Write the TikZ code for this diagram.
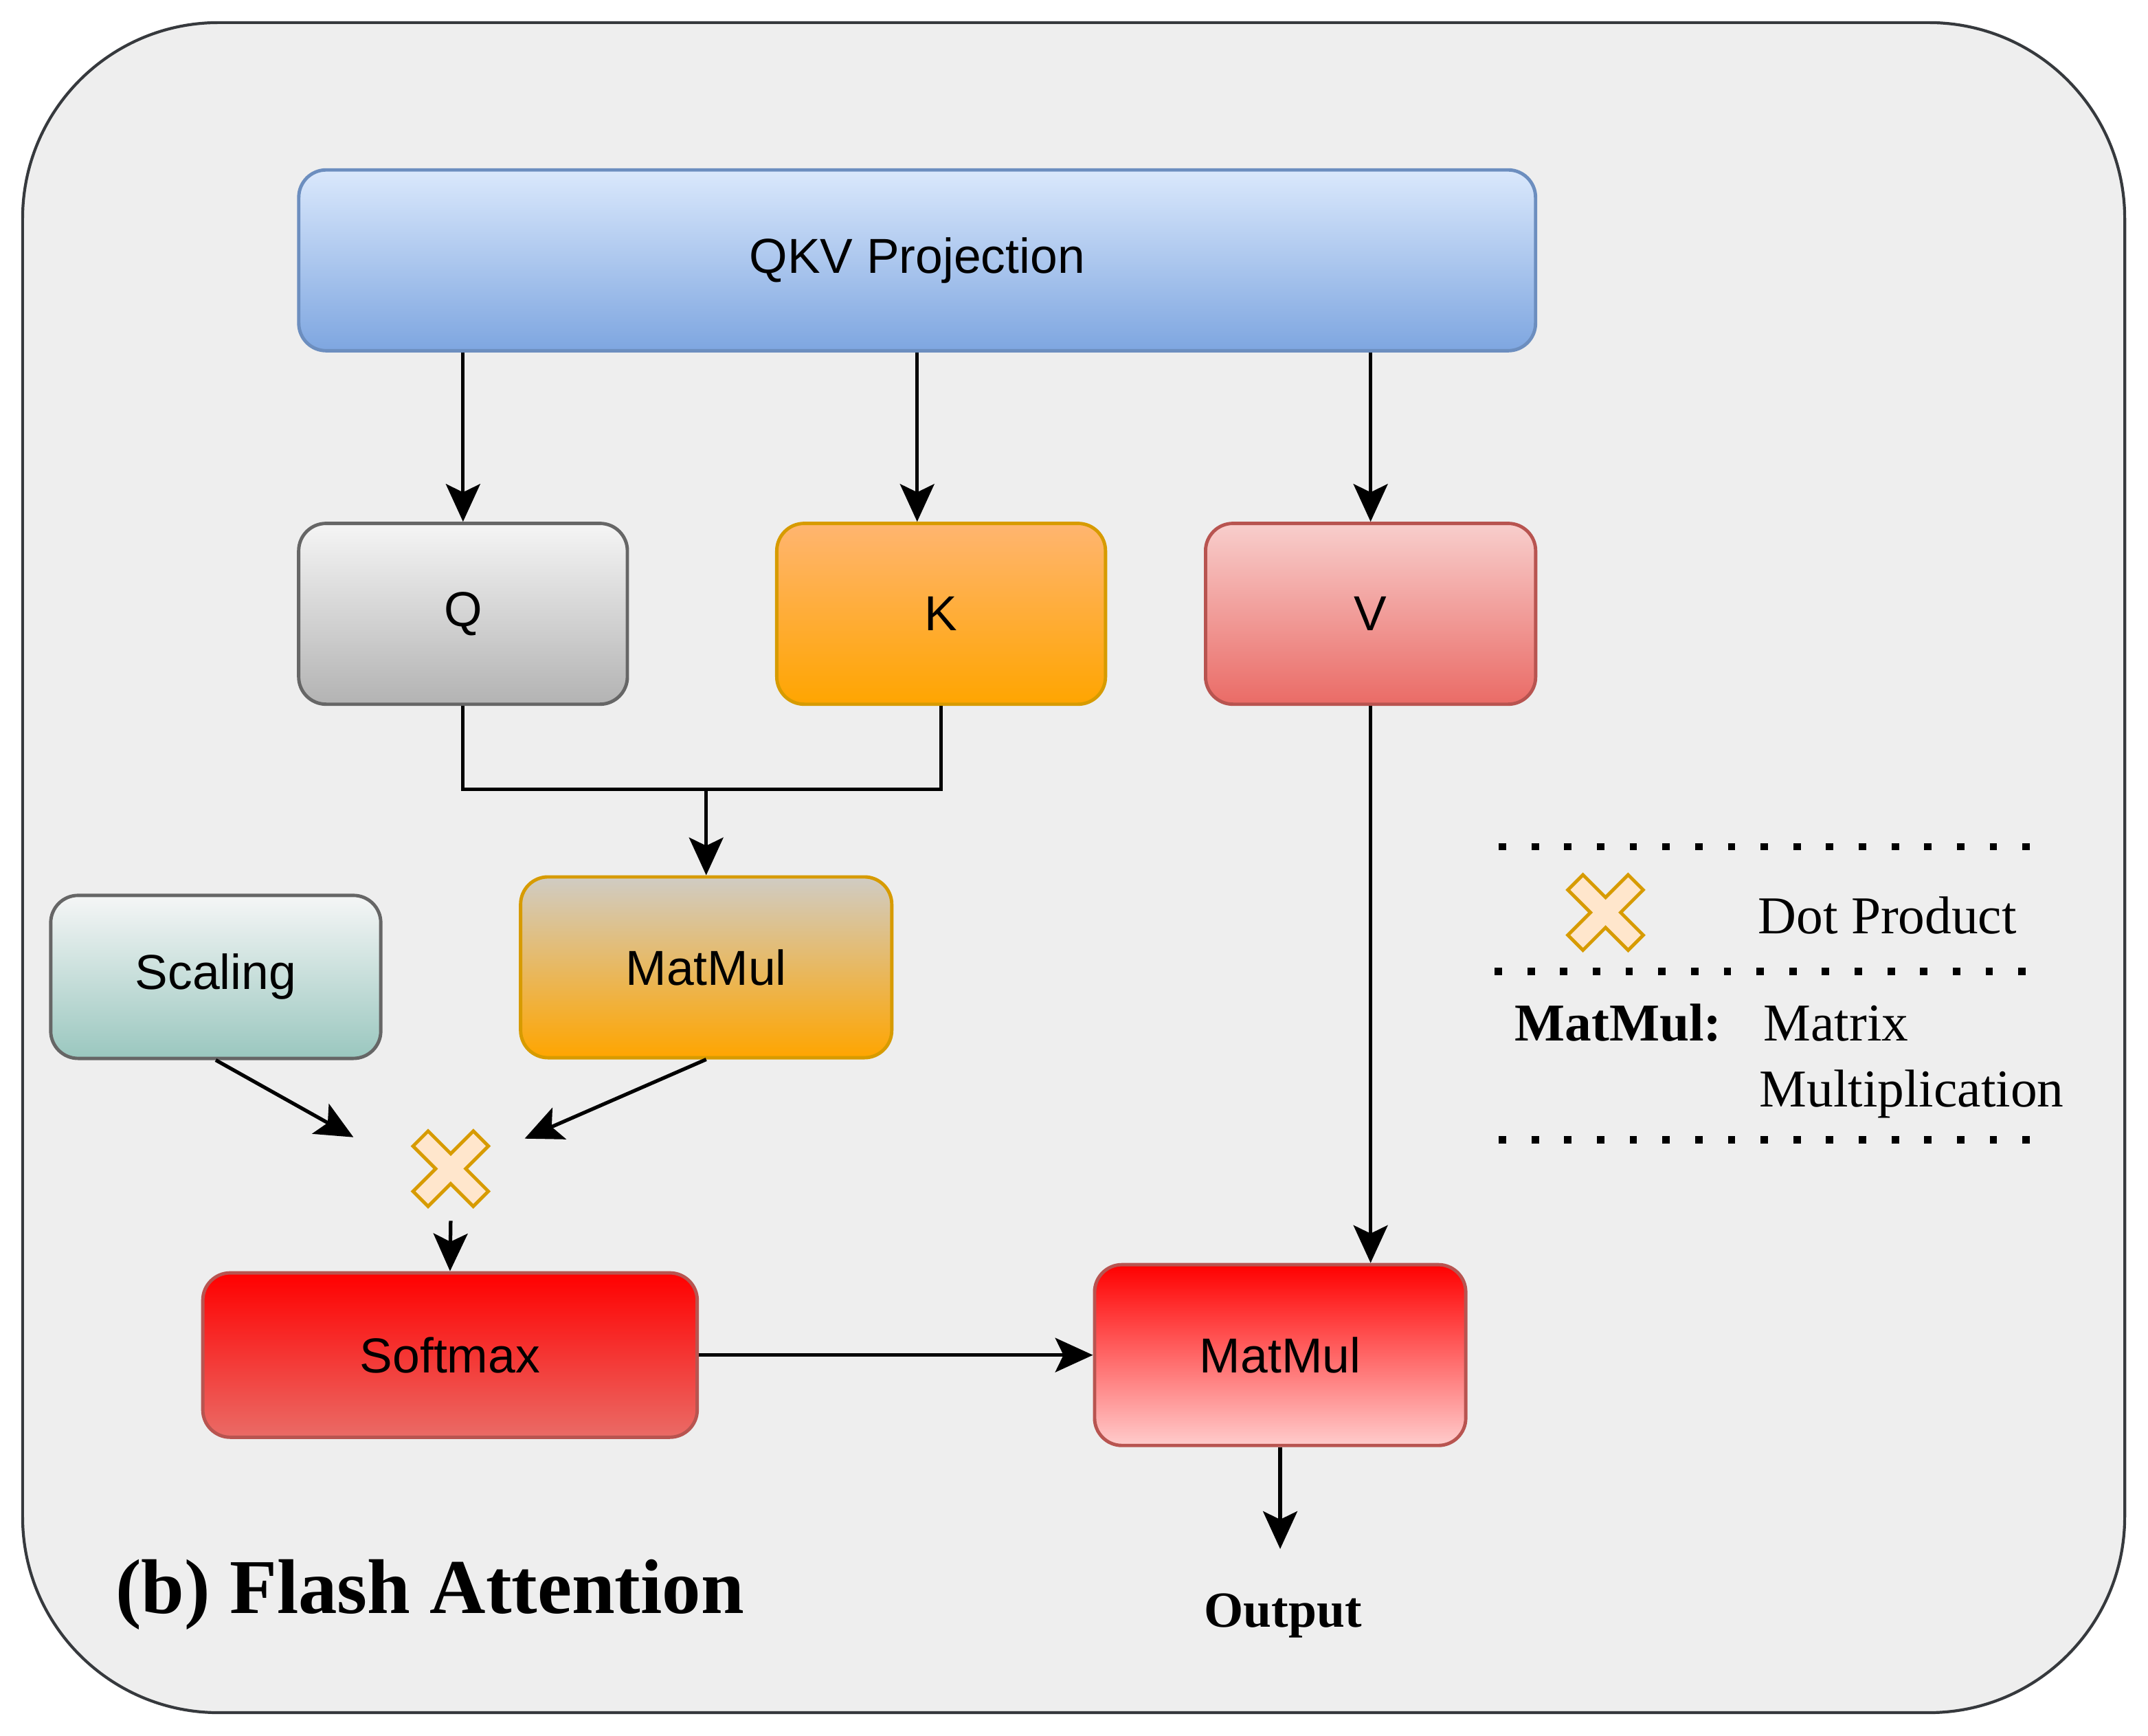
\documentclass[tikz,border=0pt]{standalone}
\usepackage{fontspec}
\setmainfont{Liberation Serif}
\setsansfont{Liberation Sans}
\usetikzlibrary{arrows.meta,positioning}

\definecolor{panelbg}{HTML}{EEEEEE}
\definecolor{panelline}{HTML}{36393D}
\definecolor{crossfill}{HTML}{FFE6CC}
\definecolor{crossline}{HTML}{D79B00}

\tikzset{
    box/.style={rectangle, draw, rounded corners=0.4cm, line width=1.4pt, inner sep=0pt,
        font=\sffamily\fontsize{20.4}{24}\selectfont},
    bluebox/.style={box, top color={rgb,255:red,218;green,232;blue,252}, bottom color={rgb,255:red,126;green,166;blue,224}, draw={rgb,255:red,108;green,142;blue,191}},
    greybox/.style={box, top color={rgb,255:red,245;green,245;blue,245}, bottom color={rgb,255:red,179;green,179;blue,179}, draw={rgb,255:red,102;green,102;blue,102}},
    orangebox/.style={box, top color={rgb,255:red,255;green,181;blue,112}, bottom color={rgb,255:red,255;green,165;blue,0}, draw=crossline},
    pinkbox/.style={box, top color={rgb,255:red,248;green,206;blue,204}, bottom color={rgb,255:red,234;green,107;blue,102}, draw={rgb,255:red,184;green,84;blue,80}},
    beigebox/.style={box, top color={rgb,255:red,208;green,204;blue,196}, bottom color={rgb,255:red,255;green,165;blue,0}, draw=crossline},
    tealbox/.style={box, top color={rgb,255:red,245;green,246;blue,246}, bottom color={rgb,255:red,154;green,199;blue,191}, draw={rgb,255:red,102;green,102;blue,102}},
    softbox/.style={box, top color={rgb,255:red,255;green,0;blue,0}, bottom color={rgb,255:red,234;green,107;blue,102}, draw={rgb,255:red,184;green,84;blue,80}},
    redbox/.style={box, top color={rgb,255:red,255;green,0;blue,0}, bottom color={rgb,255:red,255;green,204;blue,204}, draw={rgb,255:red,184;green,84;blue,80}},
    arr/.style={-{Stealth[length=0.55cm,width=0.5cm,inset=0.12cm]}, line width=1.5pt},
    crossmark/.style={fill=crossfill, draw=crossline, line width=1.4pt, line join=miter},
    legdots/.style={line width=3.1pt, dash pattern=on 3.1pt off 10.5pt},
    legtext/.style={inner sep=0pt, anchor=base west, font=\fontsize{22.1}{26}\selectfont}
}

% x-shaped mark for the dot product
\newcommand{\dotmark}[1]{%
    \draw[crossmark, shift={(#1)}] (-16.5,-27.5) -- (0,-11) -- (16.5,-27.5) -- (27.5,-16.5)
        -- (11,0) -- (27.5,16.5) -- (16.5,27.5) -- (0,11) -- (-16.5,27.5)
        -- (-27.5,16.5) -- (-11,0) -- (-27.5,-16.5) -- cycle;}

\begin{document}
\begin{tikzpicture}[x=0.02cm, y=-0.02cm]
    \useasboundingbox (0,0) rectangle (1568,1267);
    \draw[fill=panelbg, draw=panelline, line width=1.2pt, rounded corners=2.86cm] (16.5,16.5) rectangle (1551,1250);

    \node[bluebox, minimum width=18.06cm, minimum height=2.64cm] (qkv) at (669.5,190) {QKV Projection};
    \node[greybox, minimum width=4.8cm, minimum height=2.64cm] (q) at (338,448) {Q};
    \node[orangebox, minimum width=4.8cm, minimum height=2.64cm] (k) at (687,448) {K};
    \node[pinkbox, minimum width=4.82cm, minimum height=2.64cm] (v) at (1000.5,448) {V};
    \node[beigebox, minimum width=5.42cm, minimum height=2.64cm] (mm1) at (515.5,706) {MatMul};
    \node[tealbox, minimum width=4.82cm, minimum height=2.38cm] (scaling) at (157.5,713) {Scaling};
    \node[softbox, minimum width=7.22cm, minimum height=2.4cm] (softmax) at (328.5,989) {Softmax};
    \node[redbox, minimum width=5.42cm, minimum height=2.64cm] (mm2) at (934.5,989) {MatMul};
    \node[inner sep=0pt, anchor=base, font=\bfseries\fontsize{21}{24}\selectfont] (out) at (936.5,1187.3) {Output};

    \coordinate (dot) at (329,853);
    \dotmark{dot}
    \coordinate (qk) at (515.5,576);
    \coordinate (dotL) at (258,830);
    \coordinate (dotR) at (383,831);
    \coordinate (dotB) at (329,891);

    \draw[arr] (qkv.south -| q) -- (q.north);
    \draw[arr] (qkv.south) -- (qkv.south |- k.north);
    \draw[arr] (qkv.south -| v) -- (v.north);
    \draw[line width=1.5pt] (q.south) |- (qk) -| (k.south);
    \draw[arr] (qk) -- (mm1.north);
    \draw[arr] (scaling.south) -- (dotL);
    \draw[arr] (mm1.south) -- (dotR);
    \draw[arr] (dotB) -- (softmax.north);
    \draw[arr] (softmax.east) -- (mm2.west);
    \draw[arr] (v.south) -- (v.south |- mm2.north);
    \draw[arr, shorten >=0.64cm] (mm2.south) -- (mm2.south |- out.north);

    % legend
    \foreach \y/\a/\b in {618/1094/1486, 709/1091/1482, 832/1094/1486}
        \draw[legdots] (\a,\y) -- (\b,\y);
    \coordinate (legdot) at (1172,666);
    \dotmark{legdot}
    \node[legtext] (dotprod) at (1283,681.5) {Dot Product};
    \node[legtext, font=\bfseries\fontsize{22.1}{26}\selectfont] (mmkey) at (1105.5,759.7) {MatMul:};
    \node[legtext] (mmval) at (1287,759.7) {Matrix};
    \node[legtext] (mmval2) at (1284,807.8) {Multiplication};

    \node[inner sep=0pt, anchor=base west, font=\bfseries\fontsize{32.2}{36}\selectfont] (title) at (84,1177.5) {(b) Flash Attention};
\end{tikzpicture}
\end{document}
